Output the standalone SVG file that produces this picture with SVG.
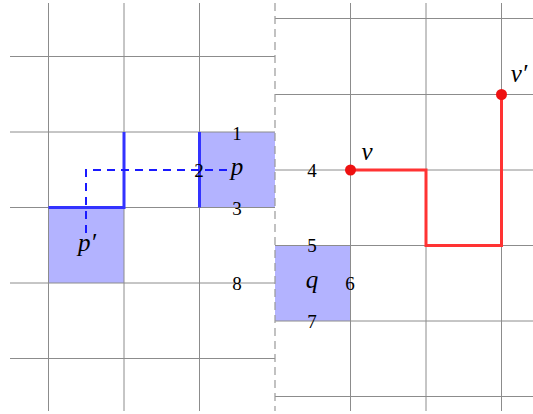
<svg xmlns="http://www.w3.org/2000/svg" width="533" height="414" viewBox="0 0 533 414">
<style>
.g{stroke:#8c8c8c;stroke-width:1;fill:none}
.cell{fill:#b3b3ff;stroke:none}
.t{font-family:"Liberation Serif","DejaVu Serif",serif;font-size:19px;fill:#000;text-anchor:middle;dominant-baseline:central}
.i{font-style:italic;font-size:25px}
.blue{stroke:#3333ff;stroke-width:3;fill:none}
.bd{stroke:#1a1aff;stroke-width:2;fill:none;stroke-dasharray:8,6}
.red{stroke:#ff3333;stroke-width:3;fill:none}
.dot{fill:#ee1111}
</style>
<rect width="533" height="414" fill="#fff"/>
<g id="cells">
<rect class="cell" x="199.5" y="132" width="75.5" height="75.5"/>
<rect class="cell" x="48.5" y="207.5" width="75.5" height="75.5"/>
<rect class="cell" x="275" y="245.5" width="75.5" height="75.5"/>
</g>
<g id="grid">
<path class="g" d="M10 56.5H275M10 132H275M10 207.5H275M10 283H275M10 358.5H275M48.5 3V411M124 3V411M199.5 3V411"/>
<path class="g" d="M275 18.5H533M275 94.5H533M275 170H533M275 245.5H533M275 321H533M275 396.5H533M350.5 3V411M426 3V411M501.5 3V411"/>
<path d="M275 3V411" stroke="#999" stroke-width="1.2" stroke-dasharray="8,5" fill="none"/>
</g>
<g id="connectors">
<path class="blue" d="M48.5 207.5H124V132"/>
<path class="blue" d="M199.5 132V207.5"/>
<path class="bd" d="M86 233V170H232"/>
<path class="red" d="M350.5 170H426V245.5H501.5V94.5"/>
</g>
<g id="v"><circle class="dot" cx="350.5" cy="170" r="5.5"/><text class="t i" x="367" y="151">v</text></g>
<g id="v-prime"><circle class="dot" cx="501.5" cy="94.5" r="5.5"/><text class="t i" x="519" y="73">v′</text></g>
<g id="p"><text class="t i" x="237" y="166">p</text></g>
<g id="p-prime"><text class="t i" x="87" y="242">p′</text></g>
<g id="q"><text class="t i" x="312" y="279">q</text></g>
<g id="labels">
<text class="t" x="237" y="133">1</text>
<text class="t" x="199" y="170">2</text>
<text class="t" x="237" y="208">3</text>
<text class="t" x="312" y="170">4</text>
<text class="t" x="312" y="245">5</text>
<text class="t" x="350" y="283">6</text>
<text class="t" x="312" y="321">7</text>
<text class="t" x="237" y="283">8</text>
</g>
</svg>
